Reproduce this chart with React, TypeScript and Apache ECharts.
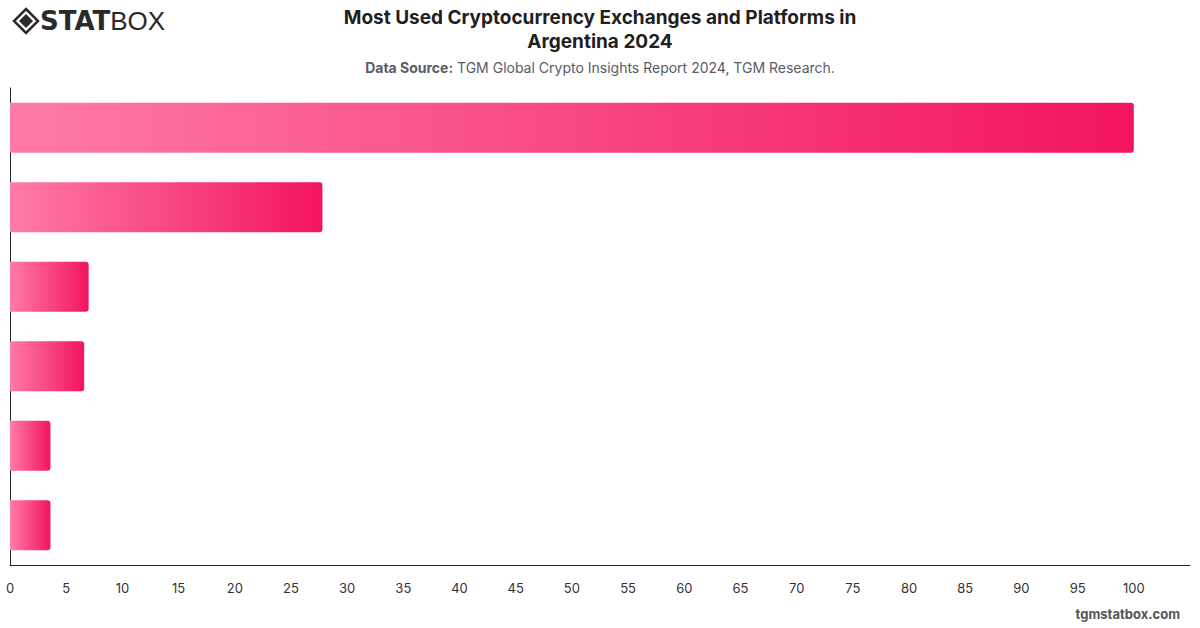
import React, { useEffect, useRef } from "react";
import * as echarts from "echarts";

const categories = ["Binance", "Lemon Cash", "Ripio", "Buenbit", "Belo", "Bitso"];
const values = [100, 27.8, 7.0, 6.6, 3.6, 3.6];
const axisMax = 105;
const axisInterval = 5;

const titleLines = ["Most Used Cryptocurrency Exchanges and Platforms in", "Argentina 2024"];
const sourceLabel = "Data Source:";
const sourceText = " TGM Global Crypto Insights Report 2024, TGM Research.";
const watermark = "tgmstatbox.com";

export default function App() {
  const ref = useRef<HTMLDivElement>(null);
  useEffect(() => {
    if (!ref.current) return;
    const chart = echarts.init(ref.current, null, { renderer: "svg" });
    const font = "Inter, 'Noto Sans', sans-serif";
    chart.setOption({
      animation: false,
      backgroundColor: "#ffffff",
      textStyle: { fontFamily: font },
      grid: { left: 10, right: 10, top: 88, bottom: 63, containLabel: false },
      xAxis: {
        type: "value",
        min: 0,
        max: axisMax,
        interval: axisInterval,
        axisLine: { show: true, lineStyle: { color: "#222", width: 1 } },
        axisTick: { show: false },
        splitLine: { show: false },
        axisLabel: { color: "#333", fontSize: 13, margin: 16, showMaxLabel: false, fontFamily: font },
      },
      yAxis: {
        type: "category",
        data: categories,
        inverse: true,
        axisLine: { show: true, lineStyle: { color: "#222", width: 1 } },
        axisTick: { show: false },
        axisLabel: { show: false },
      },
      series: [
        {
          type: "bar",
          data: values,
          barWidth: 50,
          itemStyle: {
            borderRadius: [0, 3, 3, 0],
            color: new echarts.graphic.LinearGradient(0, 0, 1, 0, [
              { offset: 0, color: "#ff7ba8" },
              { offset: 1, color: "#f2145f" },
            ]),
          },
        },
      ],
      graphic: [
        {
          type: "text",
          x: 600,
          y: 17,
          style: {
            text: titleLines[0],
            align: "center",
            verticalAlign: "middle",
            fontSize: 19,
            fontWeight: "bold",
            fill: "#1f1f1f",
            fontFamily: font,
          },
        },
        {
          type: "text",
          x: 600,
          y: 41,
          style: {
            text: titleLines[1],
            align: "center",
            verticalAlign: "middle",
            fontSize: 19,
            fontWeight: "bold",
            fill: "#1f1f1f",
            fontFamily: font,
          },
        },
        {
          type: "text",
          x: 600,
          y: 67,
          style: {
            text: "{b|" + sourceLabel + "}{n|" + sourceText + "}",
            align: "center",
            verticalAlign: "middle",
            rich: {
              b: { fontSize: 14, fontWeight: "bold", fill: "#5a5a66", fontFamily: font },
              n: { fontSize: 14, fill: "#5a5a66", fontFamily: font },
            },
          },
        },
        {
          type: "polygon",
          shape: { points: [[26, 9], [38, 21], [26, 33], [14, 21]] },
          style: { fill: "none", stroke: "#2a2a2a", lineWidth: 2.5 },
        },
        {
          type: "polygon",
          shape: { points: [[26, 14], [33, 21], [26, 28], [19, 21]] },
          style: { fill: "#2a2a2a" },
        },
        {
          type: "text",
          left: 40,
          top: 8,
          style: {
            text: "{s|STAT}{b|BOX}",
            rich: {
              s: { fontSize: 26, fontWeight: 900, fill: "#2a2a2a", fontFamily: "'DejaVu Sans', sans-serif" },
              b: { fontSize: 26, fontWeight: 300, fill: "#2a2a2a", fontFamily: "'Liberation Sans', sans-serif" },
            },
          },
        },
        {
          type: "text",
          right: 20,
          top: 607,
          style: { text: watermark, fontSize: 13, fontWeight: "bold", fill: "#555", fontFamily: font },
        },
      ],
    });
    return () => chart.dispose();
  }, []);
  return <div ref={ref} style={{ width: 1200, height: 628, position: "fixed", left: 0, top: 0 }} />;
}
